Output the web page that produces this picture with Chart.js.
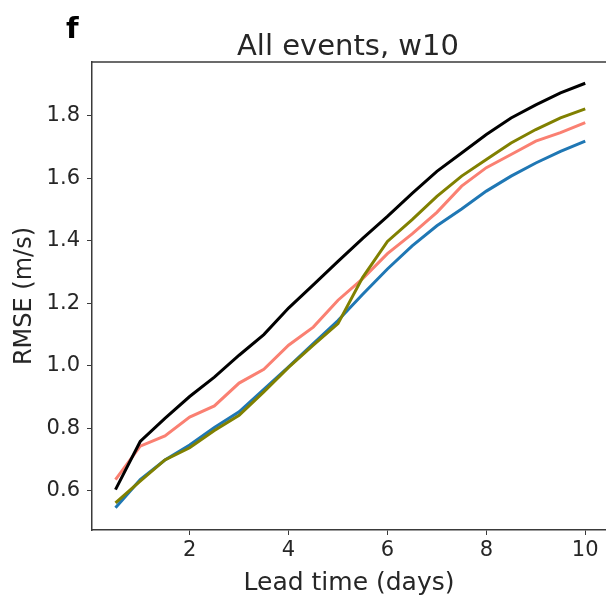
<!DOCTYPE html>
<html>
<head>
<meta charset="utf-8">
<script src="https://cdn.jsdelivr.net/npm/chart.js@4/dist/chart.umd.min.js"></script>
<style>
  html, body { margin: 0; padding: 0; background: #fff; overflow: hidden; }
  #wrap { width: 606px; height: 596px; position: relative; }
</style>
</head>
<body>
<div id="wrap"><canvas id="chart" width="606" height="596"></canvas></div>
<script>
/* data */
const leadDays = [0.5, 1, 1.5, 2, 2.5, 3, 3.5, 4, 4.5, 5, 5.5, 6, 6.5, 7, 7.5, 8, 8.5, 9, 9.5, 10];

const rmseBlack  = [0.604, 0.758, 0.832, 0.902, 0.964, 1.034, 1.100, 1.185, 1.259, 1.334, 1.408, 1.478, 1.552, 1.622, 1.681, 1.740, 1.793, 1.835, 1.873, 1.904];
const rmseSalmon = [0.636, 0.743, 0.776, 0.836, 0.872, 0.945, 0.989, 1.066, 1.124, 1.210, 1.279, 1.359, 1.422, 1.491, 1.575, 1.634, 1.676, 1.719, 1.746, 1.778];
const rmseBlue   = [0.546, 0.636, 0.699, 0.747, 0.803, 0.853, 0.925, 0.997, 1.071, 1.145, 1.229, 1.310, 1.384, 1.448, 1.502, 1.559, 1.607, 1.649, 1.686, 1.719];
const rmseOlive  = [0.562, 0.631, 0.699, 0.738, 0.793, 0.842, 0.917, 0.995, 1.066, 1.135, 1.283, 1.398, 1.468, 1.542, 1.607, 1.660, 1.713, 1.756, 1.793, 1.822];

const xTicks = [2, 4, 6, 8, 10];
const yTicks = [0.6, 0.8, 1.0, 1.2, 1.4, 1.6, 1.8];

const FONT = 'DejaVu Sans';
const INK = '#262626';
const SPINE = '#3a3a3a';

const pts = ys => ys.map((y, i) => ({ x: leadDays[i], y }));

function lineSet(label, ys, color, order) {
  return {
    label, data: pts(ys),
    borderColor: color, backgroundColor: color,
    borderWidth: 3, pointRadius: 0, tension: 0, fill: false, order
  };
}

// panel letter, title and the top spine (right spine falls outside the picture)
const decor = {
  id: 'decor',
  afterDatasetsDraw(chart) {
    const { ctx, chartArea: a } = chart;
    ctx.save();
    ctx.strokeStyle = SPINE;
    ctx.lineWidth = 1.5;
    ctx.beginPath();
    ctx.moveTo(a.left, a.top);
    ctx.lineTo(a.right, a.top);
    ctx.stroke();
    ctx.fillStyle = INK;
    ctx.textAlign = 'center';
    ctx.textBaseline = 'alphabetic';
    ctx.font = `29px "${FONT}"`;
    ctx.fillText('All events, w10', 348, 55);
    ctx.fillStyle = '#000';
    ctx.textAlign = 'left';
    ctx.font = `bold 29px "${FONT}"`;
    ctx.fillText('f', 66, 38);
    ctx.restore();
  }
};

new Chart(document.getElementById('chart').getContext('2d'), {
  type: 'line',
  data: {
    datasets: [
      lineSet('black',  rmseBlack,  '#000000', 0),
      lineSet('olive',  rmseOlive,  '#808000', 1),
      lineSet('blue',   rmseBlue,   '#1f77b4', 2),
      lineSet('salmon', rmseSalmon, '#fa8072', 3)
    ]
  },
  options: {
    responsive: false, animation: false,
    layout: { padding: { top: 62, right: 0, left: 0, bottom: 0 } },
    plugins: { legend: { display: false }, tooltip: { enabled: false } },
    scales: {
      x: {
        type: 'linear', min: 0.025, max: 10.42,
        afterBuildTicks: s => { s.ticks = xTicks.map(v => ({ value: v })); },
        afterFit: s => { s.height = 66; },
        grid: { drawOnChartArea: false, drawTicks: true, tickLength: 5, color: SPINE },
        border: { display: true, color: SPINE, width: 1.5 },
        ticks: { font: { size: 21, family: FONT }, color: INK, padding: 3, maxRotation: 0,
                 callback: v => String(v) },
        title: { display: true, text: 'Lead time (days)', font: { size: 25, family: FONT }, color: INK,
                 padding: { top: 0, bottom: -2 } }
      },
      y: {
        type: 'linear', min: 0.475, max: 1.972,
        afterBuildTicks: s => { s.ticks = yTicks.map(v => ({ value: v })); },
        afterFit: s => { s.width = 92; },
        grid: { drawOnChartArea: false, drawTicks: true, tickLength: 5, color: SPINE },
        border: { display: true, color: SPINE, width: 1.5 },
        ticks: { font: { size: 21, family: FONT }, color: INK, padding: 7,
                 callback: v => v.toFixed(1) },
        title: { display: true, text: 'RMSE (m/s)', font: { size: 24, family: FONT }, color: INK,
                 padding: { top: 10, bottom: 0 } }
      }
    }
  },
  plugins: [decor]
});
</script>
</body>
</html>
